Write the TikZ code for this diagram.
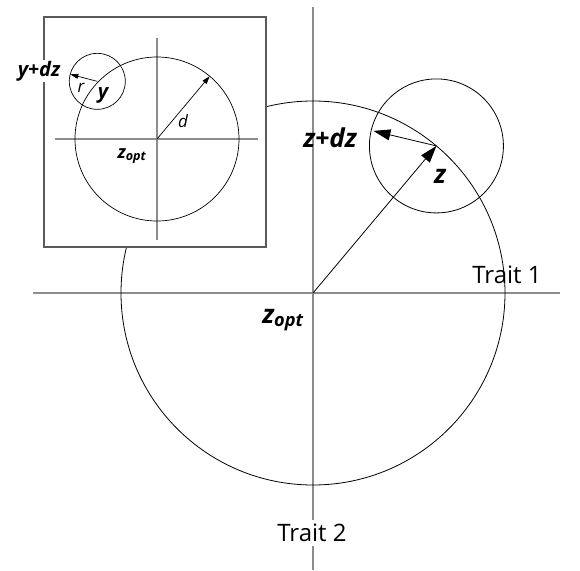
\documentclass[tikz,border=0pt]{standalone}
\usepackage{fontspec}
\setmainfont{Open Sans}
\usetikzlibrary{arrows.meta,calc}
\definecolor{AxisGrey}{HTML}{8C8C8C}
\definecolor{BoxGrey}{HTML}{5A5A5A}
\tikzset{>=Triangle,axis/.style={AxisGrey,line width=1.5pt},ring/.style={draw=black,line width=.8pt},
 vec/.style={line width=.8pt,-{Triangle[length=17pt,width=11pt]}},
 ivec/.style={line width=.7pt,-{Triangle[length=8pt,width=5pt]}},
 inbox/.style={draw=BoxGrey,fill=white,line width=1.2pt},
 mainlab/.style={font=\fontsize{26}{26}\selectfont\bfseries\itshape,inner sep=1pt},
 trait/.style={font=\fontsize{24}{24}\selectfont,inner sep=1pt},
 insetlab/.style={font=\fontsize{20}{20}\selectfont\bfseries\itshape,inner sep=1pt},
 thinlab/.style={font=\fontsize{17}{17}\selectfont\itshape,inner sep=1pt}}
\begin{document}
\begin{tikzpicture}[x=1pt,y=1pt]
\useasboundingbox (-313,-277) rectangle (267,293);
\coordinate (O) at (0,0);
\coordinate (W) at (-280,0);\coordinate (E) at (247,0);
\coordinate (N) at (0,286);\coordinate (S) at (0,-277);
\coordinate (Z) at (50:192);
\coordinate (ZD) at ($(Z)+(-63,15)$);
\draw[axis] (W)--(E);
\draw[axis] (N)--(S);
\draw[ring] (O) circle[radius=192];
\draw[ring] (Z) circle[radius=67];
\draw[vec] (O)--(Z);
\draw[vec] (Z)--(ZD);
\node[mainlab] (zlab) at (127,117) {z};
\node[mainlab] (zdlab) at (17,155) {z+dz};
\node[mainlab] (zopt) at (-30,-27) {z\textsubscript{opt}};
\node[trait] (t1) at (194,18) {Trait 1};
\node[trait,fill=white,inner sep=4pt] (t2) at (-1,-240) {Trait 2};
\begin{scope}[shift={(-156,154)}]
\draw[inbox] (-113,-108) rectangle (109,122);
\coordinate (iO) at (0,0);
\coordinate (iW) at (-102,0);\coordinate (iE) at (101,0);
\coordinate (iN) at (0,101);\coordinate (iS) at (0,-101);
\coordinate (iD) at (50:82);
\coordinate (iY) at (136:83);
\coordinate (iYD) at ($(iY)+(-27,7)$);
\draw[axis,line width=1.2pt] (iW)--(iE);
\draw[axis,line width=1.2pt] (iN)--(iS);
\draw[ring,line width=.7pt] (iO) circle[radius=82];
\draw[ring,line width=.7pt] (iY) circle[radius=28];
\draw[ivec] (iO)--(iD);
\draw[ivec] (iY)--(iYD);
\node[thinlab] (dlab) at (26,18) {d};
\node[thinlab] (rlab) at (-76,51) {r};
\node[insetlab] (ylab) at (-54,44) {y};
\node[insetlab,fill=white] (ydlab) at (-118,68) {y+dz};
\node[insetlab,font=\fontsize{18}{18}\selectfont\bfseries\itshape] (izopt) at (-25,-17) {z\textsubscript{opt}};
\end{scope}
\end{tikzpicture}
\end{document}
